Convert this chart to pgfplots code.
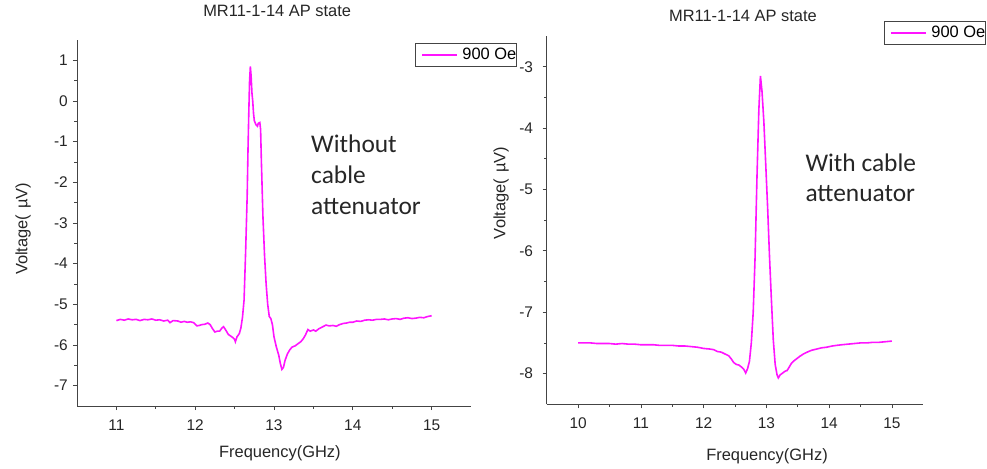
\documentclass[border=0pt]{standalone}
\usepackage{fontspec}
\setmainfont{Liberation Sans}
\newfontfamily\calib{Carlito}
\usepackage{pgfplots}
\pgfplotsset{compat=1.18}
\definecolor{mag}{HTML}{FF14FF}
\definecolor{axgray}{HTML}{444444}
\pgfplotsset{
  myax/.style={
    scale only axis,
    axis x line*=bottom, axis y line*=left,
    axis line style={axgray, line width=0.8bp},
    every tick/.style={axgray, line width=0.7bp},
    tick align=outside,
    major tick length=4bp, minor tick length=2.5bp,
    minor tick num=1,
    /pgf/number format/assume math mode=true,
    tick label style={font=\fontsize{15.5}{16}\selectfont, text=black!85},
    label style={font=\fontsize{16.5}{17}\selectfont, text=black!85},
    title style={font=\fontsize{16.5}{17}\selectfont, text=black!85},
    legend style={draw=axgray, line width=0.8bp, font=\fontsize{16.5}{17}\selectfont,
      inner xsep=0pt, inner ysep=3bp, anchor=north west, cells={anchor=west},
      nodes={inner xsep=0pt, inner ysep=2bp}},
    legend image code/.code={\path[draw=none] (0bp,0bp) -- (47bp,0bp); \draw[mag, line width=1.6bp] (6.7bp,0bp) -- (41.7bp,0bp);},
    clip=false,
  }
}
\begin{document}
\begin{tikzpicture}
\useasboundingbox (0,0) rectangle (987bp,469bp);
% ---------- left panel ----------
\begin{axis}[myax,
  at={(77bp,63bp)}, anchor=south west,
  width=394bp, height=366bp,
  xmin=10.5, xmax=15.5, ymin=-7.5, ymax=1.5,
  xtick={11,12,13,14,15}, ytick={-7,-6,-5,-4,-3,-2,-1,0,1},
  xticklabel style={anchor=center, inner sep=0pt, yshift=-15bp},
  yticklabel style={anchor=east, inner sep=0pt, xshift=-5bp},
  title={MR11-1-14 AP state},
  title style={at={(rel axis cs:0.508,1.063)}, anchor=center},
  xlabel={Frequency(GHz)},
  xlabel style={at={(rel axis cs:0.515,-0.128)}, anchor=center},
  ylabel={Voltage(\hspace{6bp}\textmu V)},
  ylabel style={at={(rel axis cs:-0.137,0.484)}, anchor=center},
  legend style={at={(rel axis cs:0.858,0.992)}},
]
\addplot[mag, line width=1.6bp] table {
11.00 -5.40
11.05 -5.37
11.10 -5.39
11.15 -5.36
11.20 -5.38
11.25 -5.37
11.30 -5.40
11.35 -5.37
11.40 -5.38
11.45 -5.36
11.50 -5.39
11.55 -5.38
11.60 -5.41
11.65 -5.39
11.68 -5.45
11.72 -5.40
11.78 -5.41
11.82 -5.44
11.86 -5.42
11.90 -5.44
11.94 -5.43
11.98 -5.45
12.02 -5.53
12.05 -5.52
12.08 -5.50
12.12 -5.49
12.16 -5.46
12.19 -5.50
12.22 -5.60
12.25 -5.68
12.28 -5.66
12.31 -5.66
12.34 -5.58
12.36 -5.55
12.39 -5.64
12.42 -5.74
12.45 -5.78
12.48 -5.82
12.50 -5.86
12.51 -5.92
12.53 -5.80
12.56 -5.72
12.58 -5.58
12.60 -5.32
12.62 -4.90
12.64 -3.70
12.66 -2.30
12.67 -1.20
12.68 -0.30
12.69 0.50
12.70 0.85
12.71 0.60
12.72 0.20
12.73 0.00
12.74 -0.30
12.75 -0.48
12.77 -0.58
12.79 -0.62
12.80 -0.55
12.82 -0.53
12.83 -0.70
12.84 -1.50
12.86 -2.86
12.88 -3.80
12.90 -4.50
12.92 -5.00
12.94 -5.30
12.96 -5.35
12.98 -5.50
13.00 -5.80
13.03 -6.05
13.06 -6.25
13.08 -6.45
13.10 -6.60
13.12 -6.55
13.14 -6.38
13.17 -6.22
13.20 -6.12
13.23 -6.05
13.27 -6.02
13.31 -5.96
13.34 -5.92
13.37 -5.85
13.40 -5.75
13.43 -5.62
13.46 -5.66
13.50 -5.63
13.53 -5.66
13.57 -5.60
13.62 -5.55
13.66 -5.51
13.70 -5.53
13.75 -5.52
13.79 -5.54
13.83 -5.50
13.88 -5.47
13.92 -5.46
13.96 -5.44
14.00 -5.44
14.05 -5.41
14.10 -5.42
14.15 -5.39
14.20 -5.38
14.25 -5.39
14.30 -5.37
14.35 -5.37
14.40 -5.36
14.45 -5.38
14.50 -5.36
14.55 -5.35
14.60 -5.37
14.65 -5.34
14.70 -5.33
14.75 -5.35
14.80 -5.34
14.85 -5.32
14.90 -5.33
14.95 -5.30
15.00 -5.28
};
\addlegendentry{900 Oe\hspace{3bp}}
\node[anchor=base west, font=\calib\fontsize{25.5}{26}\selectfont, text=black!85, inner sep=0pt] at (axis cs:13.47,-1.27) {Without};
\node[anchor=base west, font=\calib\fontsize{25.5}{26}\selectfont, text=black!85, inner sep=0pt] at (axis cs:13.47,-2.02) {cable};
\node[anchor=base west, font=\calib\fontsize{25.5}{26}\selectfont, text=black!85, inner sep=0pt] at (axis cs:13.47,-2.80) {attenuator};
\end{axis}
% ---------- right panel ----------
\begin{axis}[myax,
  at={(546.7bp,64.7bp)}, anchor=south west,
  width=376.6bp, height=368.3bp,
  xmin=9.5, xmax=15.5, ymin=-8.5, ymax=-2.5,
  xtick={10,11,12,13,14,15}, ytick={-8,-7,-6,-5,-4,-3},
  xticklabel style={anchor=center, inner sep=0pt, yshift=-15bp},
  yticklabel style={anchor=east, inner sep=0pt, xshift=-9.5bp},
  title={MR11-1-14 AP state},
  title style={at={(rel axis cs:0.521,1.038)}, anchor=center},
  xlabel={Frequency(GHz)},
  xlabel style={at={(rel axis cs:0.585,-0.140)}, anchor=center},
  ylabel={Voltage(\hspace{6bp}\textmu V)},
  ylabel style={at={(rel axis cs:-0.121,0.574)}, anchor=center},
  legend style={at={(rel axis cs:0.8957,1.0407)}},
]
\addplot[mag, line width=1.6bp] table {
10.00 -7.50
10.10 -7.50
10.20 -7.50
10.30 -7.51
10.40 -7.51
10.50 -7.51
10.60 -7.52
10.70 -7.51
10.80 -7.52
10.90 -7.52
11.00 -7.53
11.10 -7.53
11.20 -7.53
11.30 -7.54
11.40 -7.54
11.50 -7.54
11.60 -7.55
11.70 -7.55
11.80 -7.56
11.90 -7.57
12.00 -7.59
12.10 -7.60
12.16 -7.61
12.22 -7.64
12.28 -7.65
12.34 -7.68
12.40 -7.71
12.44 -7.76
12.48 -7.82
12.52 -7.85
12.56 -7.86
12.60 -7.89
12.64 -7.93
12.67 -7.99
12.70 -7.92
12.73 -7.80
12.76 -7.50
12.79 -7.00
12.82 -6.10
12.85 -4.80
12.88 -3.70
12.905 -3.15
12.93 -3.40
12.96 -3.90
12.99 -4.60
13.02 -5.30
13.05 -6.10
13.08 -6.80
13.11 -7.45
13.14 -7.85
13.17 -8.02
13.19 -8.07
13.22 -8.02
13.26 -7.99
13.30 -7.96
13.33 -7.95
13.36 -7.90
13.40 -7.83
13.43 -7.80
13.48 -7.76
13.53 -7.72
13.59 -7.68
13.65 -7.65
13.72 -7.62
13.80 -7.60
13.88 -7.58
13.96 -7.57
14.05 -7.55
14.12 -7.54
14.20 -7.53
14.30 -7.52
14.40 -7.51
14.50 -7.50
14.60 -7.50
14.70 -7.49
14.80 -7.49
14.90 -7.48
15.00 -7.47
};
\addlegendentry{900 Oe\hspace{3bp}}
\node[anchor=base west, font=\calib\fontsize{25.5}{26}\selectfont, text=black!85, inner sep=0pt] at (axis cs:13.62,-4.71) {With cable};
\node[anchor=base west, font=\calib\fontsize{25.5}{26}\selectfont, text=black!85, inner sep=0pt] at (axis cs:13.62,-5.20) {attenuator};
\end{axis}
\end{tikzpicture}
\end{document}
